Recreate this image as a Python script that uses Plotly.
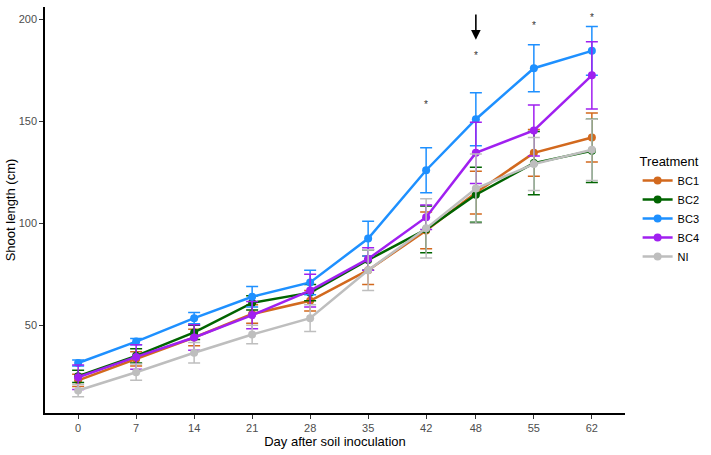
import plotly.graph_objects as go

days = [0, 7, 14, 21, 28, 35, 42, 48, 55, 62]

BC1 = [23, 33.5, 44, 55.5, 62, 77, 96.5, 115, 134.5, 142]
BC1_err = [3, 3.5, 4, 4.5, 5, 7, 9, 10.5, 11.5, 12]
BC2 = [25, 35, 46.5, 61, 66, 82, 97, 114, 129.5, 135.5]
BC2_err = [3, 3.5, 3.5, 3.5, 4, 5, 11.5, 13.5, 15.5, 15.5]
BC3 = [31.5, 42, 53.5, 64, 71, 92.5, 126, 151, 176, 184.5]
BC3_err = [1.5, 1.5, 2.7, 5, 6, 8.5, 11, 13, 11.5, 12]
BC4 = [24.5, 34.5, 44, 55, 67, 82.5, 103, 134.5, 145.5, 172.5]
BC4_err = [6, 6, 6.2, 6.7, 8, 5.5, 6, 15, 12.5, 16.5]
NI = [18, 27, 36.5, 45.5, 53.5, 77, 97.5, 117, 129, 136]
NI_err = [3, 4, 5, 4.5, 6.5, 10, 14.5, 17, 13, 15]

treatments = ["BC1", "BC2", "BC3", "BC4", "NI"]
values = [BC1, BC2, BC3, BC4, NI]
errors = [BC1_err, BC2_err, BC3_err, BC4_err, NI_err]
colors = ["#D2691E", "#006400", "#1E90FF", "#A020F0", "#BEBEBE"]

star_days = [42, 48, 55, 62]
star_y = [159.5, 183.6, 198.6, 202.4]
arrow_day = 48
arrow_top = 203
arrow_tip = 190

fig = go.Figure()
for name, v, e, c in zip(treatments, values, errors, colors):
    fig.add_trace(go.Scatter(
        x=days, y=v, name=name, mode="lines+markers",
        line=dict(color=c, width=2.5),
        marker=dict(color=c, size=8),
        error_y=dict(type="data", array=e, visible=True, color=c,
                     thickness=1.5, width=6),
    ))

for d, yv in zip(star_days, star_y):
    fig.add_annotation(x=d, y=yv, text="*", showarrow=False,
                       font=dict(family="Liberation Sans", size=10, color="#333333"),
                       yshift=-3)

fig.add_annotation(x=arrow_day, y=arrow_tip, ax=arrow_day, ay=arrow_top,
                   axref="x", ayref="y", xref="x", yref="y",
                   text="", showarrow=True, arrowhead=2, arrowsize=1.2,
                   arrowwidth=1.6, arrowcolor="black")

fig.update_layout(
    width=711, height=455,
    margin=dict(l=45, r=85, t=7, b=42),
    plot_bgcolor="white", paper_bgcolor="white",
    font=dict(family="Liberation Sans", size=11, color="black"),
    showlegend=True,
    legend=dict(
        title=dict(text="Treatment", font=dict(size=13, color="black")),
        x=1.02, y=0.65, xanchor="left", yanchor="top",
        font=dict(size=11, color="black"),
        tracegroupgap=0, itemwidth=30,
    ),
    xaxis=dict(
        range=[-4, 66], tickvals=days, ticktext=[str(d) for d in days],
        showgrid=False, zeroline=False,
        showline=True, linecolor="black", linewidth=1.5,
        ticks="outside", ticklen=4, tickcolor="#333333",
        tickfont=dict(size=11, color="#4D4D4D"),
        title=dict(text="Day after soil inoculation", font=dict(size=13, color="black"), standoff=4),
    ),
    yaxis=dict(
        range=[7, 206], tickvals=[50, 100, 150, 200],
        showgrid=False, zeroline=False,
        showline=True, linecolor="black", linewidth=1.5,
        ticks="outside", ticklen=4, tickcolor="#333333",
        tickfont=dict(size=11, color="#4D4D4D"),
        title=dict(text="Shoot length (cm)", font=dict(size=13, color="black"), standoff=0),
    ),
)

fig.write_html("out.html")
